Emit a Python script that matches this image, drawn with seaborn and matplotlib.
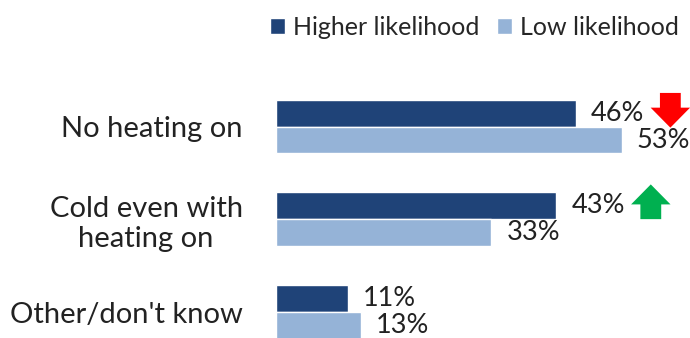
import numpy as np
import pandas as pd
import seaborn as sns
import matplotlib.pyplot as plt
import matplotlib.transforms as mtransforms

# data
categories = ["No heating on", "Cold even with\nheating on", "Other/don't know"]
higher = [46, 43, 11]
low = [53, 33, 13]
groups = ["Higher likelihood", "Low likelihood"]
# change arrows: +1 up, -1 down, 0 none (shown next to the higher-likelihood bar)
change = [-1, 1, 0]

dark = "#1F4378"
light = "#95B3D7"

df = pd.DataFrame({
    "category": categories * 2,
    "group": [groups[0]] * 3 + [groups[1]] * 3,
    "value": higher + low,
})

sns.set_style("white")
plt.rcParams["font.family"] = ["Lato", "DejaVu Sans"]

fig = plt.figure(figsize=(6.9, 3.38), dpi=100)
ax = fig.add_axes([0.4, 0.0, 0.6, 0.763])

sns.barplot(data=df, y="category", x="value", hue="group", orient="h",
            palette=[dark, light], width=0.58, saturation=1, ax=ax,
            order=categories, hue_order=groups)

for cont in ax.containers:
    ax.bar_label(cont, fmt="%g%%", padding=11, fontsize=19.5, color="#222222")

ax.set_xlim(0, 63.5)
ax.set_ylim(2.277, -0.5)
ax.set_xlabel("")
ax.set_ylabel("")
ax.set_xticks([])
sns.despine(ax=ax, left=True, bottom=True)
ax.tick_params(axis="y", length=0, pad=24, labelsize=21)
for lab in ax.get_yticklabels():
    lab.set_multialignment("center")
    lab.set_color("#222222")

# arrows beside the higher-likelihood labels
for i, d in enumerate(change):
    if d == 0:
        continue
    col = "#FF0000" if d < 0 else "#00B050"
    tip_dy = -10.5 if d < 0 else 15.5
    trans = mtransforms.offset_copy(ax.transData, fig=fig, x=68, y=tip_dy, units="points")
    y_bar = i - 0.58 / 4
    ax.annotate("", xy=(higher[i], y_bar), xycoords=trans,
                xytext=(0, 25 * -d), textcoords="offset points",
                arrowprops=dict(arrowstyle="simple,head_length=0.72,head_width=1.42,tail_width=0.75",
                                mutation_scale=20, color=col, shrinkA=0, shrinkB=0, lw=0))

handles, labels = ax.get_legend_handles_labels()
ax.get_legend().remove()
fig.legend(handles, labels, loc="upper right", bbox_to_anchor=(1.017, 1.02), ncol=2,
           frameon=False, fontsize=18, handlelength=0.6, handleheight=0.6,
           handletextpad=0.32, columnspacing=0.7)

fig.savefig("out.png", dpi=100)
